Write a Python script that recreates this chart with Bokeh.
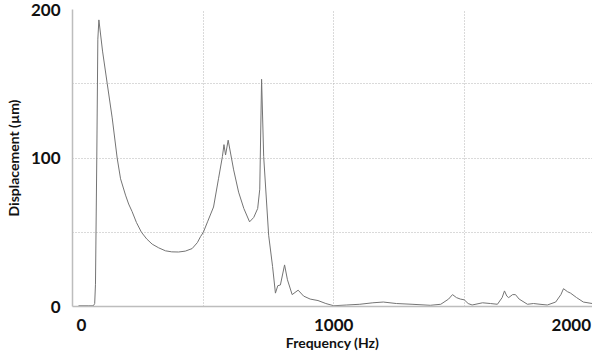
from bokeh.plotting import figure
from bokeh.models import FixedTicker, Range1d
from bokeh.embed import file_html
from bokeh.resources import INLINE

freq = [23, 60, 80, 85, 88, 93, 97, 101, 115, 133, 152, 171, 184, 203, 215, 228, 245, 264, 284,
        305, 330, 356, 380, 406, 432, 458, 478, 490, 501, 517, 540, 559, 574, 580, 586, 596,
        617, 636, 656, 678, 694, 709, 717, 724, 732, 751, 766, 777, 786, 796, 812, 823, 841,
        864, 885, 910, 940, 970, 1000, 1050, 1100, 1150, 1190, 1240, 1300, 1370, 1410, 1440,
        1455, 1470, 1485, 1500, 1515, 1530, 1570, 1600, 1627, 1645, 1654, 1663, 1670, 1685,
        1696, 1710, 1742, 1765, 1790, 1818, 1850, 1870, 1880, 1895, 1907, 1930, 1956, 1990]
disp = [0.5, 0.5, 0.5, 2, 15, 100, 180, 193, 172, 150, 127, 100, 86, 75, 69, 64, 56.5, 50, 45.5,
        42, 39.5, 37.5, 36.8, 36.7, 37.3, 39, 43, 47, 50, 57, 67, 86, 101, 109, 102, 112,
        92, 77, 66, 57, 60, 66, 79, 153, 101, 48, 27, 9, 14, 14.5, 28, 18, 8,
        11, 7, 5, 4, 2, 0.5, 1, 1.5, 2.5, 3, 2, 1.5, 0.8, 1.5, 5,
        8, 6, 5, 4.5, 2, 1, 2.5, 2, 1.5, 6, 10.5, 7, 6, 8,
        8, 5, 1.5, 2, 1.5, 1, 3, 8, 12, 10, 9, 6, 3, 2]

x_tick_pos = [34, 1000, 1910]
x_tick_labels = ["0", "1000", "2000"]
y_ticks = [0, 100, 200]
x_grid = [500, 1000, 1500, 2000]
y_grid = [50, 100, 150, 200]

p = figure(width=592, height=353, output_backend="svg", toolbar_location=None,
           x_range=Range1d(0, 1991), y_range=Range1d(0, 200),
           min_border_left=72, min_border_right=0, min_border_top=9, min_border_bottom=39)
p.outline_line_color = None
p.background_fill_color = "white"
p.border_fill_color = "white"

p.line(freq, disp, line_color="#747474", line_width=1)

font = "Lato"
p.xaxis.ticker = FixedTicker(ticks=x_tick_pos)
p.xaxis.major_label_overrides = {pos: lab for pos, lab in zip(x_tick_pos, x_tick_labels)}
p.yaxis.ticker = FixedTicker(ticks=y_ticks)
for ax in (p.xaxis, p.yaxis):
    ax.axis_line_color = "#bdbdbd"
    ax.axis_line_width = 1.5
    ax.major_tick_line_color = None
    ax.minor_tick_line_color = None
    ax.major_label_text_font = font
    ax.major_label_text_font_style = "bold"
    ax.major_label_text_font_size = "17px"
    ax.major_label_text_color = "#111111"
    ax.axis_label_text_font = font
    ax.axis_label_text_font_style = "bold"
    ax.axis_label_text_font_size = "14px"
    ax.axis_label_text_color = "#111111"
    ax.major_label_standoff = 6

p.xaxis.axis_label = "Frequency (Hz)"
p.yaxis.axis_label = "Displacement (µm)"
p.xaxis.axis_label_standoff = 0
p.yaxis.axis_label_standoff = 6

p.xgrid.ticker = FixedTicker(ticks=x_grid)
p.ygrid.ticker = FixedTicker(ticks=y_grid)
for g in (p.xgrid, p.ygrid):
    g.grid_line_color = "#b4b4b4"
    g.grid_line_dash = "1 2"
    g.grid_line_width = 1

open("out.html", "w").write(file_html(p, INLINE))
